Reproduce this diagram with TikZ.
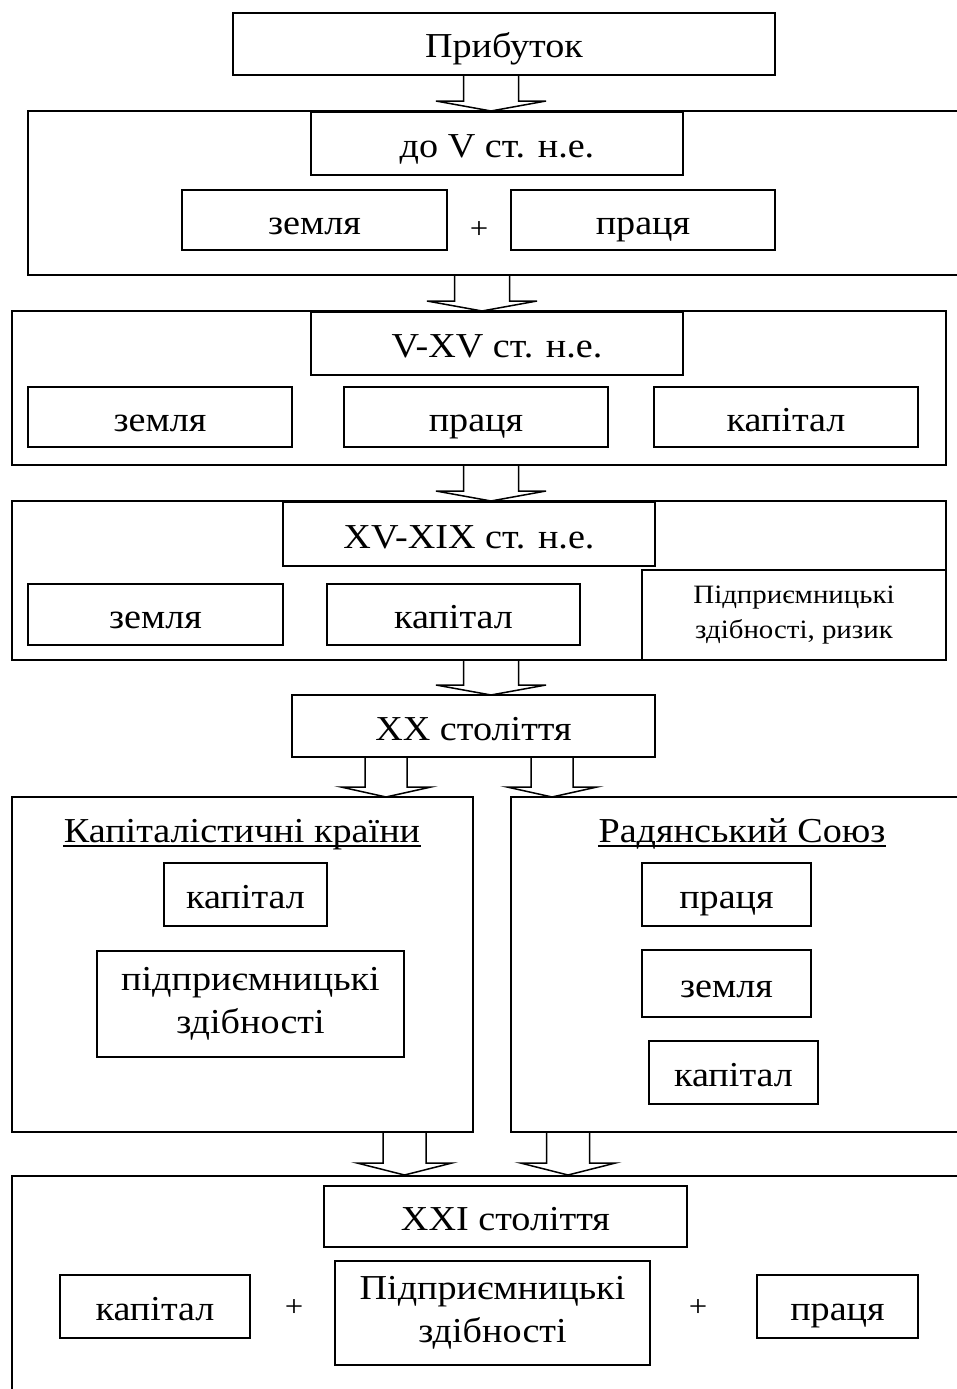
\documentclass[tikz,border=0pt]{standalone}
\usepackage{fontspec}
\setmainfont[FakeStretch=1.09]{Liberation Serif}
\newcommand\fatarrow[6]{\draw[barrow] (#1-#5,#2) -- (#1-#5,#3) -- (#1-#6,#3) -- (#1,#4) -- (#1+#6,#3) -- (#1+#5,#3) -- (#1+#5,#2);}
\begin{document}
\begin{tikzpicture}[x=1pt,y=-1pt,line width=1.5pt,
  bx/.style={draw,fill=white,inner sep=0pt,outer sep=0pt,align=center,font=\fontsize{35}{43}\selectfont},
  one/.style={text height=32pt,text depth=4pt},
  small/.style={font=\fontsize{26.5}{35}\selectfont},
  big/.style={draw,inner sep=0pt,outer sep=0pt},
  lbl/.style={inner sep=0pt,font=\fontsize{35}{43}\selectfont},
  plus/.style={inner sep=0pt,font=\fontsize{30}{36}\selectfont},
  barrow/.style={draw,line width=1.5pt,line join=miter}]
\clip (0,0) rectangle (957,1389);
\useasboundingbox (0,0) rectangle (957,1389);
% big frames
\node[big,minimum width=962pt,minimum height=164pt] (B) at (509,193) {};
\node[big,minimum width=934pt,minimum height=154pt] (C) at (479,388) {};
\node[big,minimum width=934pt,minimum height=159pt] (D) at (479,580.5) {};
\node[big,minimum width=461pt,minimum height=335pt] (F1) at (242.5,964.5) {};
\node[big,minimum width=489pt,minimum height=335pt] (F2) at (755.5,964.5) {};
\node[big,minimum width=988pt,minimum height=244pt] (G) at (506,1298) {};
% top
\node[bx,one,minimum width=542pt,minimum height=62pt] (A) at (504,44) {Прибуток};
% block B
\node[bx,one,minimum width=372pt,minimum height=63pt] (B1) at (497,143.5) {до V ст. н.е.};
\node[bx,one,minimum width=265pt,minimum height=60pt] (B2) at (314.5,220) {земля};
\node[plus] (Bp) at (479,230) {+};
\node[bx,one,minimum width=264pt,minimum height=60pt] (B3) at (643,220) {праця};
% block C
\node[bx,one,minimum width=372pt,minimum height=63pt] (C1) at (497,343.5) {V-XV ст. н.е.};
\node[bx,one,minimum width=264pt,minimum height=60pt] (C2) at (160,417) {земля};
\node[bx,one,minimum width=264pt,minimum height=60pt] (C3) at (476,417) {праця};
\node[bx,one,minimum width=264pt,minimum height=60pt] (C4) at (786,417) {капітал};
% block D
\node[bx,one,minimum width=372pt,minimum height=64pt] (D1) at (469,534) {XV-XIX ст. н.е.};
\node[bx,one,minimum width=255pt,minimum height=61pt] (D2) at (155.5,614.5) {земля};
\node[bx,one,minimum width=253pt,minimum height=61pt] (D3) at (453.5,614.5) {капітал};
\node[bx,small,minimum width=304pt,minimum height=90pt] (D4) at (794,615) {\raisebox{-3pt}{Підприємницькі}\\\raisebox{-3pt}{здібності, ризик}};
% XX
\node[bx,one,minimum width=363pt,minimum height=62pt] (E) at (473.5,726) {XX століття};
% F1
\node[lbl,anchor=base] (F1t) at (242,842) {Капіталістичні країни};
\draw ([yshift=-4pt]F1t.base west) -- ([yshift=-4pt]F1t.base east);
\node[bx,one,minimum width=163pt,minimum height=63pt] (F1a) at (245.5,894.5) {капітал};
\node[bx,minimum width=307pt,minimum height=106pt] (F1b) at (250.5,1004) {\raisebox{-6pt}{підприємницькі}\\\raisebox{-6pt}{здібності}};
% F2
\node[lbl,anchor=base] (F2t) at (742,842) {Радянський Союз};
\draw ([yshift=-4pt]F2t.base west) -- ([yshift=-4pt]F2t.base east);
\node[bx,one,minimum width=169pt,minimum height=63pt] (F2a) at (726.5,894.5) {праця};
\node[bx,one,minimum width=169pt,minimum height=67pt] (F2b) at (726.5,983.5) {земля};
\node[bx,one,minimum width=169pt,minimum height=63pt] (F2c) at (733.5,1072.5) {капітал};
% G
\node[bx,one,minimum width=363pt,minimum height=61pt] (G1) at (505.5,1216.5) {XXI століття};
\node[bx,one,minimum width=190pt,minimum height=63pt] (G2) at (155,1306.5) {капітал};
\node[plus] (Gp1) at (294,1308) {+};
\node[bx,minimum width=315pt,minimum height=104pt] (G3) at (492.5,1313) {\raisebox{-6pt}{Підприємницькі}\\\raisebox{-6pt}{здібності}};
\node[plus] (Gp2) at (698,1308) {+};
\node[bx,one,minimum width=161pt,minimum height=63pt] (G4) at (837.5,1306.5) {праця};
% block arrows
\fatarrow{491}{75}{101}{111}{27.5}{55}
\fatarrow{482}{275}{301}{311}{27.5}{55}
\fatarrow{491}{465}{491}{501}{27.5}{55}
\fatarrow{491}{660}{685}{695}{27.5}{55}
\fatarrow{386}{757}{787}{797}{21}{45}
\fatarrow{552}{757}{787}{797}{21}{45}
\fatarrow{404.5}{1132}{1163}{1175}{21.5}{47.5}
\fatarrow{568}{1132}{1163}{1175}{21.5}{47.5}
\end{tikzpicture}
\end{document}
